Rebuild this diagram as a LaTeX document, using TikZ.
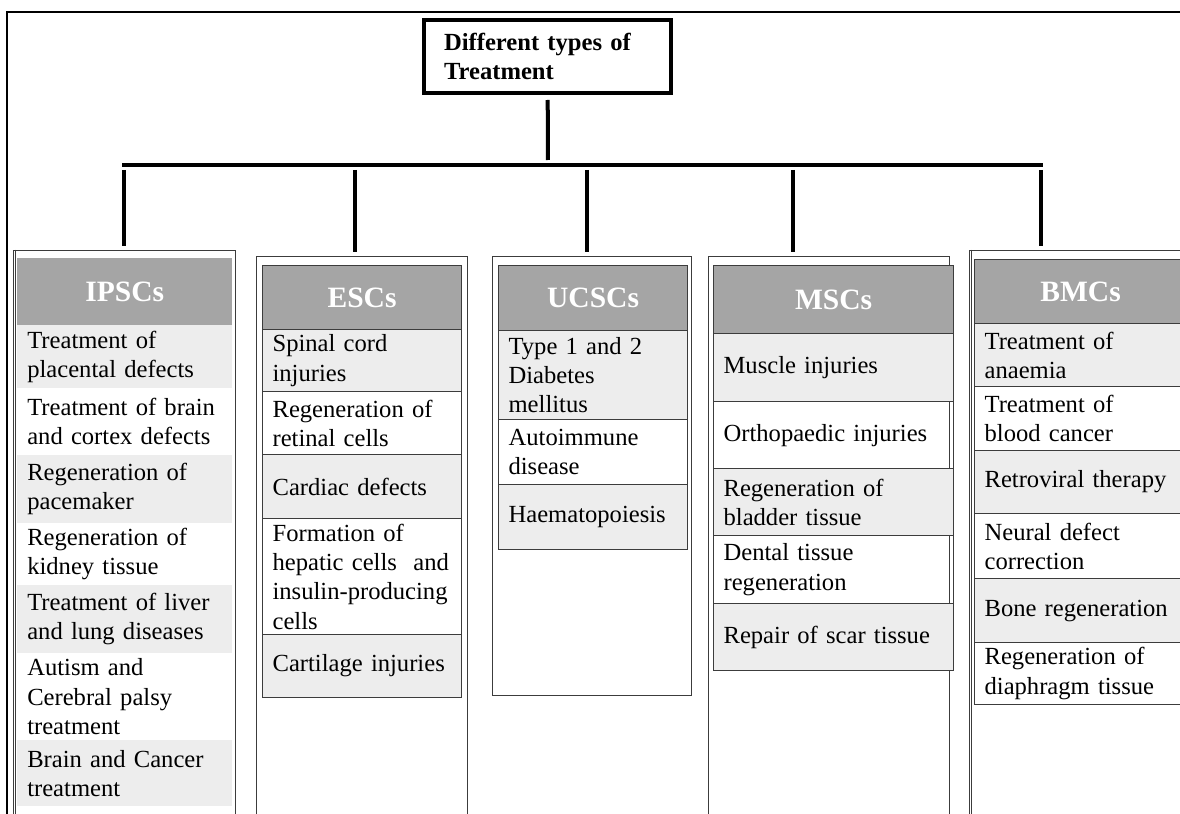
\documentclass[tikz,border=0pt]{standalone}
\usepackage{fontspec}
\setmainfont{Liberation Serif}

\newlength{\pxl}
\setlength{\pxl}{0.025cm}
\definecolor{headgray}{HTML}{A5A5A5}
\definecolor{rowgray}{HTML}{EDEDED}
\definecolor{rulegray}{HTML}{3C3C3C}

\begin{document}
\begin{tikzpicture}[x=0.025cm, y=-0.025cm,
  link/.style={line width=4\pxl},
  colbox/.style={draw=rulegray, line width=1.2\pxl, anchor=north west, inner sep=0pt},
  head/.style={fill=headgray, anchor=north west, inner sep=0pt, text=white,
    font=\bfseries\fontsize{21}{24}\selectfont},
  dhead/.style={head, draw=rulegray, line width=1.2\pxl},
  cell/.style={anchor=north west, inner xsep=10\pxl, inner ysep=0pt, align=left,
    font=\fontsize{17.5}{20.8}\selectfont},
  dcell/.style={cell, draw=rulegray, line width=1.2\pxl}]
  \useasboundingbox (0,0) rectangle (1180,814);
  \clip (0,0) rectangle (1180,814);
  \fill[white] (0,0) rectangle (1180,814);
  % outer frame, open at right and bottom
  \draw[line width=2.5\pxl] (7,830) -- (7,12) -- (1195,12);
  % root box
  \node[draw, line width=4\pxl, align=left, text width=207\pxl, inner xsep=20\pxl,
    minimum height=73\pxl, font=\bfseries\fontsize{17.5}{20}\selectfont]
    (types) at (547.5,56.5) {Different types of\\Treatment};

  % column frames
  \node[colbox, minimum width=222\pxl, minimum height=620\pxl] (box1) at (13,250) {};
  \node[colbox, minimum width=211\pxl, minimum height=620\pxl] (box2) at (256,256) {};
  \node[colbox, minimum width=199\pxl, minimum height=439\pxl] (box3) at (492,256) {};
  \node[colbox, minimum width=241\pxl, minimum height=620\pxl] (box4) at (708,256) {};
  \node[colbox, minimum width=260\pxl, minimum height=620\pxl] (box5) at (969,250) {};
  \draw[draw=rulegray, line width=1.2\pxl] ([xshift=2.5\pxl]box1.north west) -- ([xshift=2.5\pxl]box1.south west);
  \draw[draw=rulegray, line width=1.2\pxl] ([xshift=2.5\pxl]box5.north west) -- ([xshift=2.5\pxl]box5.south west);

  % tree lines
  \coordinate (hub) at (548,165);
  \coordinate (barL) at (122,165);
  \coordinate (barR) at (1043,165);
  \draw[link, shorten <=5\pxl, shorten >=5\pxl] (types) -- (hub);
  \draw[link] (barL) -- (barR);
  \foreach \xb [count=\n] in {124,355,587,793,1041} {
    \coordinate (b\n) at (\xb,165);
    \draw[link, shorten <=5\pxl, shorten >=4\pxl] (b\n) -- (b\n |- box\n.north);
  }

  % IPSCs
  \node[head, minimum width=215\pxl, minimum height=67\pxl] (ipsc) at (17,258) {IPSCs};
  \foreach \ya/\h/\fc/\txt [count=\n] in {
    325/63/rowgray/{Treatment of\\placental defects},
    388/67/none/{Treatment of brain\\and cortex defects},
    455/68/rowgray/{Regeneration of\\pacemaker},
    523/62/none/{Regeneration of\\kidney tissue},
    585/68/rowgray/{Treatment of liver\\and lung diseases},
    653/87/none/{Autism and\\Cerebral palsy\\treatment},
    740/66/rowgray/{Brain and Cancer\\treatment}}
    \node[cell, fill=\fc, text width=195\pxl, minimum height=\h\pxl] (ipsc\n) at (17,\ya) {\txt};

  % ESCs
  \node[dhead, minimum width=199\pxl, minimum height=64\pxl] (esc) at (262,265) {ESCs};
  \foreach \ya/\h/\fc/\txt [count=\n] in {
    329/62/rowgray/{Spinal cord\\injuries},
    391/63/none/{Regeneration of\\retinal cells},
    454/64/rowgray/{Cardiac defects},
    518/116/none/{Formation of\\hepatic cells\ \ and\\insulin-producing\\cells},
    634/63/rowgray/{Cartilage injuries}}
    \node[dcell, fill=\fc, text width=179\pxl, minimum height=\h\pxl] (esc\n) at (262,\ya) {\txt};

  % UCSCs
  \node[dhead, minimum width=189\pxl, minimum height=65\pxl] (ucsc) at (498,265) {UCSCs};
  \foreach \ya/\h/\fc/\txt [count=\n] in {
    330/89/rowgray/{Type 1 and 2\\Diabetes\\mellitus},
    419/65/none/{Autoimmune\\disease},
    484/65/rowgray/{Haematopoiesis}}
    \node[dcell, fill=\fc, text width=169\pxl, minimum height=\h\pxl] (ucsc\n) at (498,\ya) {\txt};

  % MSCs
  \node[dhead, minimum width=240\pxl, minimum height=68\pxl] (msc) at (713,265) {MSCs};
  \foreach \ya/\h/\fc/\txt [count=\n] in {
    333/68/rowgray/{Muscle injuries},
    401/67/none/{Orthopaedic injuries},
    468/67/rowgray/{Regeneration of\\bladder tissue},
    535/68/none/{Dental tissue\\regeneration},
    603/67/rowgray/{Repair of scar tissue}}
    \node[dcell, fill=\fc, text width=220\pxl, minimum height=\h\pxl] (msc\n) at (713,\ya) {\txt};

  % BMCs (table runs off the right edge)
  \node[dhead, minimum width=212\pxl, minimum height=64\pxl] (bmc) at (974,259) {BMCs};
  \foreach \ya/\h/\fc/\txt [count=\n] in {
    323/63/rowgray/{Treatment of\\anaemia},
    386/64/none/{Treatment of\\blood cancer},
    450/63/rowgray/{Retroviral therapy},
    513/65/none/{Neural defect\\correction},
    578/64/rowgray/{Bone regeneration},
    642/62/none/{Regeneration of\\diaphragm tissue}}
    \node[dcell, fill=\fc, text width=192\pxl, minimum height=\h\pxl] (bmc\n) at (974,\ya) {\txt};
\end{tikzpicture}
\end{document}
